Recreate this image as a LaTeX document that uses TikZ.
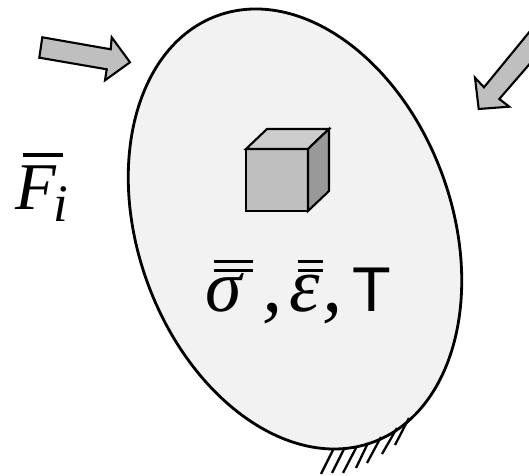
\documentclass[tikz,border=0pt]{standalone}
\usepackage{fontspec}
\setmainfont{Liberation Serif}
\setsansfont{Liberation Sans}
\usepackage{tikz}
\usepackage{xcolor}
\definecolor{bodybg}{HTML}{F2F2F2}
\definecolor{arrowbg}{HTML}{BFBFBF}
\definecolor{cubetop}{HTML}{CDCDCD}
\definecolor{cubeside}{HTML}{999999}
\newcommand{\Sym}[2]{\fontsize{#1}{#1}\selectfont\itshape #2}
\tikzset{
  outline/.style={draw=black,line width=1.2pt,line join=miter},
  loadarrow/.style={outline,fill=arrowbg},
  hatchline/.style={black,line width=1.3pt},
  barline/.style={black,line width=1.7pt},
  label/.style={inner sep=0pt,anchor=base west}
}
\begin{document}
\begin{tikzpicture}[x=0.02cm,y=0.02cm]
\clip (0,0) rectangle (529,476);

% --- body ------------------------------------------------------------
\draw[outline,line width=1.6pt,fill=bodybg] (295,247) ellipse [x radius=157,y radius=227,rotate=20];

% --- load arrows -----------------------------------------------------
\draw[loadarrow] (42.3,438.7) -- (39.3,418.3) -- (106.7,406.7) -- (105,395.7) -- (130,413.7) -- (111.7,438.7) -- (110.7,426.7) -- cycle;
\draw[loadarrow] (540,457) -- (484,388.7) -- (475,398.3) -- (478.7,367) -- (509.3,369.3) -- (499.3,377) -- (540,424) -- cycle;

% --- cube ------------------------------------------------------------
\draw[outline,fill=arrowbg] (246,327) rectangle (308,265);
\draw[outline,fill=cubetop] (246,327) -- (267,347) -- (329,347) -- (308,327) -- cycle;
\draw[outline,fill=cubeside] (308,327) -- (329,347) -- (329,285) -- (308,265) -- cycle;

% --- fixed support ---------------------------------------------------
\foreach \xa/\ya/\xb/\yb in {333/450/321/474,344/449/332/473,356/448/343/473,368/443/356/468,381/437/367/463,397/428/382/454,409/418/395/445}{
  \draw[hatchline] (\xa,476-\ya) -- (\xb,476-\yb);
}

% --- labels ----------------------------------------------------------
\node[label] (force) at (15,266) {\Sym{38}{F}};
\node[label] (forceidx) at (53,254) {\Sym{30}{i}};
\draw[barline,line width=2.2pt] (23,321) -- (63,321);

\node[label] (sigma) at (205,164) {\Sym{42}{σ}};
\node[label] (commaa) at (262,164) {\Sym{46}{,}};
\node[label] (epsilon) at (289,164) {\Sym{44}{ε}};
\node[label] (commab) at (322,164) {\Sym{46}{,}};
\node[label,font=\sffamily\fontsize{36}{36}\selectfont] (temp) at (352,164) {T};
\foreach \ybar in {214,205}{
  \draw[barline] (214,\ybar) -- (253,\ybar);
  \draw[barline] (298,\ybar) -- (323,\ybar);
}
\end{tikzpicture}
\end{document}
